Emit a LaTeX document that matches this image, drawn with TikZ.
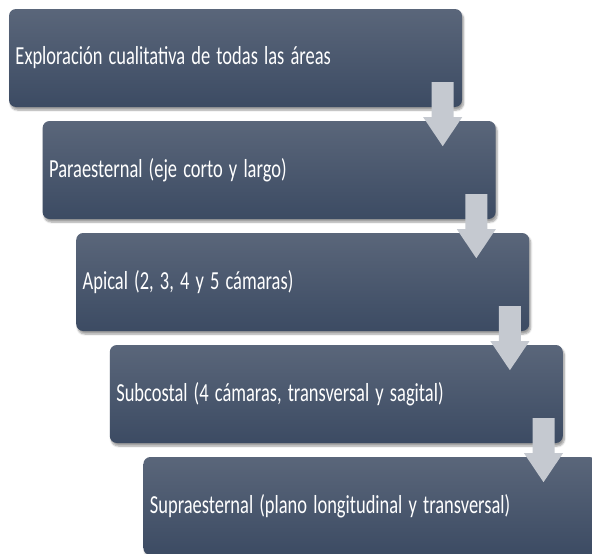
\documentclass[tikz,border=0pt]{standalone}
\usepackage{fontspec}
\setmainfont{Carlito}
\usepackage{graphicx}
\usepackage{tikz}
\usetikzlibrary{calc,shadows.blur}

\definecolor{boxtop}{RGB}{90,102,122}
\definecolor{boxbot}{RGB}{60,75,99}
\definecolor{arrowgray}{RGB}{197,201,208}

\newcommand{\squeeze}[1]{\scalebox{0.71}[1]{#1}}

\tikzset{
  stepbox/.style={rectangle, rounded corners=7pt, minimum width=453pt,
    minimum height=98pt, text width=440pt, inner xsep=6.5pt, align=left,
    top color=boxtop, bottom color=boxbot, text=white,
    blur shadow={shadow xshift=1.5pt, shadow yshift=-3pt, shadow blur steps=6,
      shadow opacity=40},
    font=\fontsize{26}{30}\selectfont},
  downarrow/.style={fill=arrowgray}
}

\begin{document}
\begin{tikzpicture}[x=1pt, y=-1pt]
\useasboundingbox (0,0) rectangle (592,554) ;
\clip (0,0) rectangle (592,554) ;

\draw (235.5, 58) node[stepbox] (expl) {\squeeze{Exploración cualitativa de todas las áreas}} ;

\draw (269.1, 170) node[stepbox] (para) {\squeeze{Paraesternal (eje corto y largo)}} ;

\draw (302.7, 282) node[stepbox] (apic) {\squeeze{Apical (2, 3, 4 y 5 cámaras)}} ;

\draw (336.3, 394) node[stepbox] (subc) {\squeeze{Subcostal (4 cámaras, transversal y sagital)}} ;

\draw (369.9, 506) node[stepbox] (supr) {\squeeze{Supraesternal (plano longitudinal y transversal)}} ;

% block arrows down the steps
\foreach \a/\b in {expl/para, para/apic, apic/subc, subc/supr}
  \fill[downarrow]
     ($(\a.south east)+(-30.5,-25)$) -- ++(22,0) -- ++(0,35) -- ++(8.5,0)
     -- ($(\a.south east)+(-19.5,39)$) -- ++(-19.5,-29) -- ++(8.5,0) -- cycle ;
\end{tikzpicture}
\end{document}
